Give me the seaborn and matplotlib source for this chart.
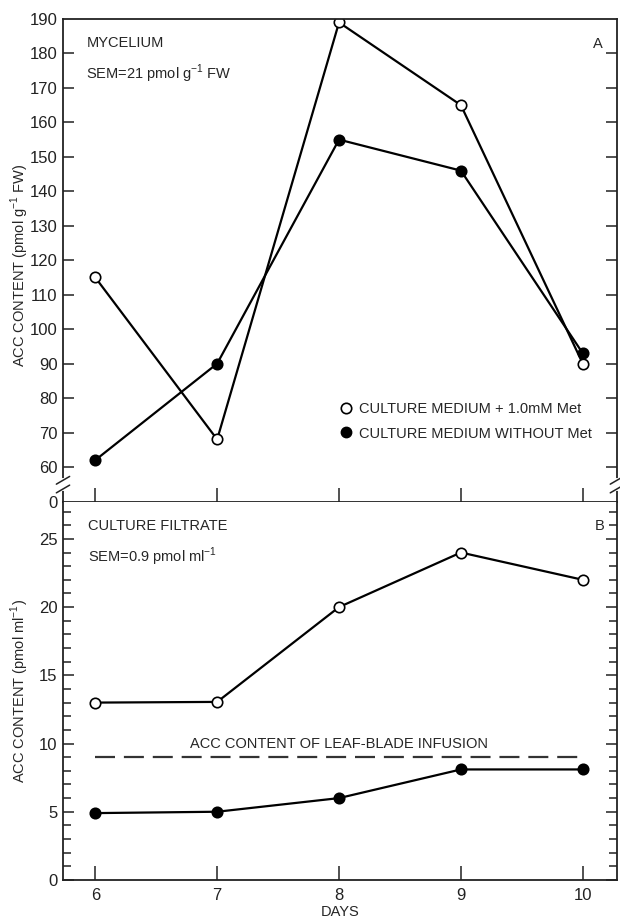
import numpy as np
import pandas as pd
import seaborn as sns
import matplotlib.pyplot as plt
import matplotlib.ticker as mtick
from matplotlib.lines import Line2D

sns.set_style('ticks')
plt.rcParams['font.family'] = ['Liberation Sans', 'DejaVu Sans']
plt.rcParams['mathtext.fontset'] = 'custom'
plt.rcParams['mathtext.rm'] = 'Liberation Sans'

days = [6, 7, 8, 9, 10]

# panel A - mycelium (pmol g-1 FW)
myc_met = [115, 68, 189, 165, 90]
myc_nomet = [62, 90, 155, 146, 93]

# panel B - culture filtrate (pmol ml-1)
filt_met = [13, 13.05, 20, 24, 22]
filt_nomet = [4.9, 5, 6, 8.1, 8.1]

leaf_blade = 9.0
leaf_days = [6, 10]

top_ticks = [60, 70, 80, 90, 100, 110, 120, 130, 140, 150, 160, 170, 180, 190]
bot_ticks = [0, 5, 10, 15, 20, 25]

fig = plt.figure(figsize=(6.2, 9.22), dpi=100)
ax1 = fig.add_axes([0.1016, 0.4555, 0.8934, 0.5239])
ax2 = fig.add_axes([0.1016, 0.0456, 0.8934, 0.4099])

line_kw = dict(color='black', linewidth=1.6, markersize=7.5, markeredgewidth=1.2,
               markeredgecolor='black')

sns.lineplot(x=days, y=myc_met, marker='o', markerfacecolor='white', ax=ax1, **line_kw)
sns.lineplot(x=days, y=myc_nomet, marker='o', markerfacecolor='black', ax=ax1, **line_kw)

sns.lineplot(x=days, y=filt_met, marker='o', markerfacecolor='white', ax=ax2, **line_kw)
sns.lineplot(x=days, y=filt_nomet, marker='o', markerfacecolor='black', ax=ax2, **line_kw)
ax2.plot(leaf_days, [leaf_blade, leaf_blade], color='#333333', linewidth=1.6,
         dashes=(9, 4))
ax2.text(8, leaf_blade + 0.45, 'ACC CONTENT OF LEAF-BLADE INFUSION', ha='center',
         va='bottom', fontsize=10.5)

# axes limits
ax1.set_xlim(5.735, 10.28)
ax2.set_xlim(5.735, 10.28)
ax1.set_ylim(49.84, 190)
ax2.set_ylim(0, 27.7)

# ticks
ax1.set_yticks([49.84] + top_ticks)
ax1.set_yticklabels(['0'] + [str(t) for t in top_ticks])
ax1.set_xticks(days)
ax1.tick_params(axis='x', labelbottom=False)
ax2.set_yticks(bot_ticks)
ax2.yaxis.set_minor_locator(mtick.MultipleLocator(1))
ax2.set_xticks(days)

for ax in (ax1, ax2):
    ax.tick_params(axis='both', which='both', direction='in', right=True,
                   colors='#222222', labelsize=12, width=1.1)
    ax.tick_params(axis='y', which='major', length=8, pad=4)
    ax.tick_params(axis='y', which='minor', length=6)
    ax.tick_params(axis='x', length=10, pad=6)
    for sp in ax.spines.values():
        sp.set_linewidth(1.3)
        sp.set_color('#222222')
ax1.tick_params(axis='y', which='major', labelright=False)
ax1.yaxis.get_major_ticks()[0].tick1line.set_visible(False)
ax1.yaxis.get_major_ticks()[0].tick2line.set_visible(False)
ax1.yaxis.get_major_ticks()[-1].tick1line.set_visible(False)
ax1.yaxis.get_major_ticks()[-1].tick2line.set_visible(False)
ax2.spines['top'].set_visible(False)

# axis break marks on the top panel
for xs in (0, 1):
    ax1.plot([xs, xs], [0.026, 0.046], transform=ax1.transAxes, color='white',
             linewidth=3, clip_on=False, zorder=5)
    for yb in (0.027, 0.045):
        ax1.plot([xs - 0.012, xs + 0.012], [yb - 0.008, yb + 0.008],
                 transform=ax1.transAxes, color='#222222', linewidth=1.1,
                 clip_on=False, zorder=6)

# panel labels
ax1.text(0.042, 0.965, 'MYCELIUM', transform=ax1.transAxes, fontsize=10.5, va='top')
ax1.text(0.042, 0.91, 'SEM=21 pmol g$^{-1}$ FW', transform=ax1.transAxes,
         fontsize=10.5, va='top')
ax1.text(0.965, 0.963, 'A', transform=ax1.transAxes, fontsize=10.5, va='top', ha='center')

ax2.text(0.045, 0.955, 'CULTURE FILTRATE', transform=ax2.transAxes, fontsize=10.5, va='top')
ax2.text(0.045, 0.885, 'SEM=0.9 pmol ml$^{-1}$', transform=ax2.transAxes,
         fontsize=10.5, va='top')
ax2.text(0.968, 0.955, 'B', transform=ax2.transAxes, fontsize=10.5, va='top', ha='center')

ax1.set_ylabel('ACC CONTENT (pmol g$^{-1}$ FW)', fontsize=10.5)
ax2.set_ylabel('ACC CONTENT (pmol ml$^{-1}$)', fontsize=10.5)
ax1.yaxis.set_label_coords(-0.058, 0.49)
ax2.yaxis.set_label_coords(-0.058, 0.5)
ax2.set_xlabel('DAYS', fontsize=10.5, labelpad=1)
ax1.set_xlabel('')

handles = [
    Line2D([], [], marker='o', linestyle='none', markerfacecolor='white',
           markeredgecolor='black', markersize=7.5, markeredgewidth=1.2),
    Line2D([], [], marker='o', linestyle='none', markerfacecolor='black',
           markeredgecolor='black', markersize=7.5),
]
ax1.legend(handles, ['CULTURE MEDIUM + 1.0mM Met', 'CULTURE MEDIUM WITHOUT Met'],
           loc='upper left', bbox_to_anchor=(0.48, 0.235), frameon=False,
           fontsize=10.5, handlelength=0.6, handletextpad=0.6, labelspacing=0.75)

fig.savefig('out.png', dpi=100)
